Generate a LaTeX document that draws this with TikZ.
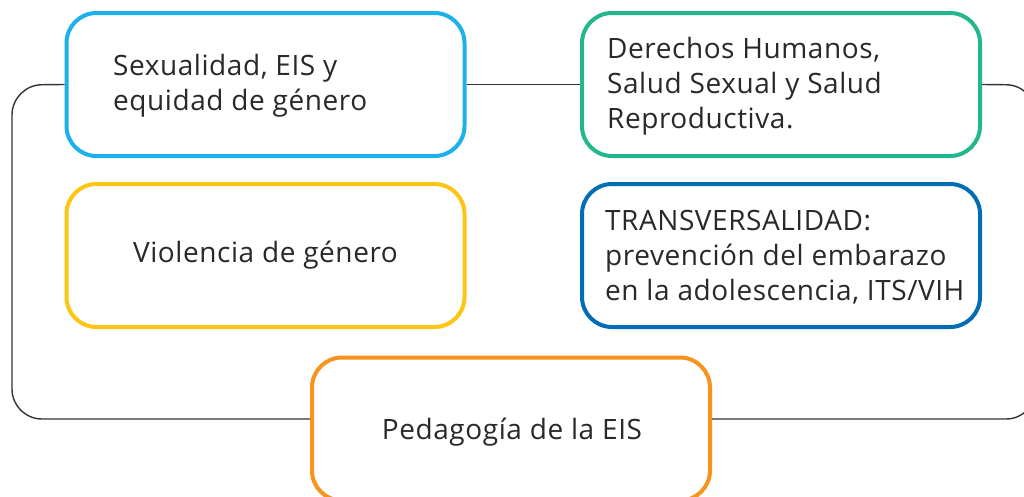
\documentclass[tikz,border=0pt]{standalone}
\usepackage{fontspec}
\setmainfont[LetterSpace=2.0]{Open Sans}
\definecolor{cBlue}{HTML}{1CB0EC}
\definecolor{cGreen}{HTML}{22B78D}
\definecolor{cYellow}{HTML}{FEC514}
\definecolor{cNavy}{HTML}{006DB5}
\definecolor{cOrange}{HTML}{F7941E}
\definecolor{cText}{HTML}{2A2829}
\definecolor{cFrame}{HTML}{333333}
\begin{document}
\begin{tikzpicture}[x=1pt,y=-1pt,
  box/.style={draw, line width=4pt, rounded corners=30pt, fill=white,
    minimum width=398pt, minimum height=143pt, inner sep=0pt},
  txt/.style={inner sep=0pt, align=left, text=cText,
    font=\fontsize{28}{35}\selectfont},
  frame/.style={draw=cFrame, line width=1.4pt, rounded corners=30pt}]
\useasboundingbox (0,0) rectangle (1024,496);
\clip (0,0) rectangle (1024,496);
\fill[white] (0,0) rectangle (1024,496);
\coordinate (cTL) at (12,85);
\coordinate (cBL) at (12,419);
\coordinate (cTR) at (1036,85);
\coordinate (cBR) at (1036,419);
% boxes
\node[box, draw=cBlue]   (b1) at (265.5,84.5) {};
\node[box, draw=cGreen]  (b2) at (781,84.5) {};
\node[box, draw=cYellow] (b3) at (265.5,255.5) {};
\node[box, draw=cNavy]   (b4) at (781,255.5) {};
\node[box, draw=cOrange] (b5) at (511,429) {};
% connectors
\draw[frame] (b1.west) -- (cTL) -- (cBL) -- (cBL -| b5.west);
\draw[frame] (b2.east) -- (cTR) -- (cBR) -- (cBR -| b5.east);
\draw[frame] (b1.east) -- (b2.west);
% texts
\node[txt, anchor=west] (t1) at (113,86) {Sexualidad, EIS y\\equidad de género};
\node[txt, anchor=west] (t2) at (607,86) {Derechos Humanos,\\Salud Sexual y Salud\\Reproductiva.};
\node[txt] (t3) at (b3.center) {Violencia de género};
\node[txt, anchor=west] (t4) at (605,257) {TRANSVERSALIDAD:\\prevención del embarazo\\en la adolescencia, ITS/VIH};
\node[txt] (t5) at (512,432) {Pedagogía de la EIS};
\end{tikzpicture}
\end{document}
